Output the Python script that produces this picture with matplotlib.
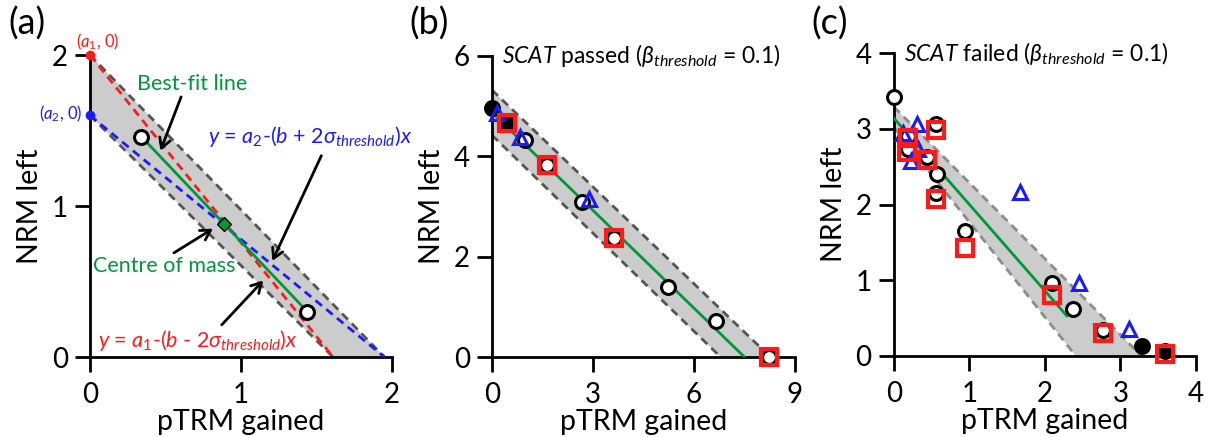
import matplotlib
matplotlib.use("Agg")
import matplotlib.pyplot as plt
import numpy as np

plt.rcParams['font.family'] = ['Lato', 'DejaVu Sans']
plt.rcParams['mathtext.fontset'] = 'custom'
plt.rcParams['mathtext.rm'] = 'Lato'
plt.rcParams['mathtext.it'] = 'Lato:italic'
plt.rcParams['mathtext.bf'] = 'Lato:bold'
plt.rcParams['mathtext.fallback'] = 'stixsans'

# ---------------- data ----------------
# panel (a)
a_circ_x = [0.34, 1.44]
a_circ_y = [1.46, 0.30]
a_com = (0.89, 0.88)
a_a1, a_a2 = 2.0, 1.6
a_red_xint, a_blue_xint = 1.61, 1.95
a_xticks = [0, 1, 2]
a_yticks = [0, 1, 2]

# panel (b)
b_circ_x = [0.98, 1.63, 2.67, 3.61, 5.24, 6.64, 8.24]
b_circ_y = [4.32, 3.82, 3.09, 2.38, 1.39, 0.71, 0.0]
b_fill_x = [0.0, 0.44]
b_fill_y = [4.96, 4.66]
b_tri_x = [0.16, 0.83, 2.89]
b_tri_y = [4.86, 4.38, 3.14]
b_sq_x = [0.44, 1.63, 3.61, 8.24]
b_sq_y = [4.66, 3.82, 2.38, 0.0]
b_band_top = (5.32, 8.27)   # (y-intercept, x-intercept)
b_band_bot = (4.42, 6.79)
b_fit = (4.87, 7.50)
b_xticks = [0, 3, 6, 9]
b_yticks = [0, 2, 4, 6]

# panel (c)
c_circ_x = [0.0, 0.56, 0.19, 0.18, 0.44, 0.57, 0.56, 0.94, 2.09, 2.37, 2.77]
c_circ_y = [3.42, 3.06, 2.90, 2.74, 2.63, 2.40, 2.15, 1.65, 0.96, 0.62, 0.34]
c_fill_x = [3.28, 3.59]
c_fill_y = [0.13, 0.07]
c_tri_x = [0.30, 0.12, 0.32, 0.22, 1.67, 2.45, 3.12]
c_tri_y = [3.07, 2.94, 2.74, 2.58, 2.16, 0.96, 0.35]
c_sq_x = [0.18, 0.17, 0.44, 0.56, 0.56, 0.94, 2.09, 2.77, 3.59]
c_sq_y = [2.88, 2.70, 2.59, 2.98, 2.08, 1.43, 0.80, 0.30, 0.03]
c_band_top = (3.29, 3.28)
c_band_bot = (3.02, 2.41)
c_fit_x = [0.0, 2.29]
c_fit_y = [3.14, 0.53]
c_xticks = [0, 1, 2, 3, 4]
c_yticks = [0, 1, 2, 3, 4]

GREEN = '#00973a'
RED = '#ff1a1a'
BLUE = '#1a1aff'
FILL = '#cccccc'

fig = plt.figure(figsize=(12.08, 4.37), dpi=100)
axA = fig.add_axes([0.0745, 0.183, 0.250, 0.691])
axB = fig.add_axes([0.4073, 0.183, 0.2508, 0.689])
axC = fig.add_axes([0.7400, 0.1854, 0.250, 0.693])


def style(ax, xt, yt):
    ax.set_xlim(xt[0], xt[-1])
    ax.set_ylim(yt[0], yt[-1])
    ax.set_xticks(xt)
    ax.set_yticks(yt)
    for s in ['top', 'right']:
        ax.spines[s].set_visible(False)
    for s in ['left', 'bottom']:
        ax.spines[s].set_linewidth(2)
    ax.spines['left'].set_bounds(yt[0], yt[-1])
    ax.spines['bottom'].set_bounds(xt[0], xt[-1])
    ax.tick_params(direction='out', length=11, width=2, labelsize=20)
    ax.tick_params(axis='x', pad=7)
    ax.tick_params(axis='y', pad=5)
    ax.set_xlabel('pTRM gained', fontsize=20.5, labelpad=1)
    ax.set_ylabel('NRM left', fontsize=20.5, labelpad=6)
    ax.set_facecolor('none')


def band(ax, top, bot, dcol):
    yt, xt = top
    yb, xb = bot
    ax.fill([0, xt, xb, 0], [yt, 0, 0, yb], color=FILL, lw=0, zorder=1)
    ax.plot([0, xt], [yt, 0], ls=(0, (3, 2)), color=dcol, lw=2, zorder=2)
    ax.plot([0, xb], [yb, 0], ls=(0, (3, 2)), color=dcol, lw=2, zorder=2)


circ_kw = dict(ls='none', marker='o', ms=10, mfc='white', mec='black', mew=2.2, clip_on=False, zorder=5)
fill_kw = dict(ls='none', marker='o', ms=10, mfc='black', mec='black', mew=2.2, clip_on=False, zorder=5)
tri_kw = dict(ls='none', marker='^', ms=10.5, mfc='none', mec=BLUE, mew=2.2, clip_on=False, zorder=6)
sq_kw = dict(ls='none', marker='s', ms=11.5, mfc='none', mec=RED, mew=3, clip_on=False, zorder=7)

# ---------------- panel (a) ----------------
ax = axA
style(ax, a_xticks, a_yticks)
band(ax, (a_a1, a_blue_xint), (a_a2, a_red_xint), '#555555')
ax.plot([0, a_red_xint], [a_a1, 0], ls=(0, (3, 2)), color=RED, lw=2, zorder=3)
ax.plot([0, a_blue_xint], [a_a2, 0], ls=(0, (3, 2)), color=BLUE, lw=2, zorder=3)
ax.plot(a_circ_x, a_circ_y, color=GREEN, lw=2, zorder=4)
ax.plot(a_circ_x, a_circ_y, **circ_kw)
ax.plot([a_com[0]], [a_com[1]], ls='none', marker='D', ms=7, mfc=GREEN, mec='black', mew=1, zorder=6)
ax.plot([0], [a_a1], 'o', color=RED, ms=6, clip_on=False, zorder=6)
ax.plot([0], [a_a2], 'o', color=BLUE, ms=6, clip_on=False, zorder=6)
ax.text(-0.09, 2.09, r'($a_1$, 0)', color=RED, fontsize=12, ha='left', va='center')
ax.text(-0.05, 1.61, r'($a_2$, 0)', color=BLUE, fontsize=12, ha='right', va='center')
ax.text(0.31, 1.81, 'Best-fit line', color=GREEN, fontsize=15.5, ha='left', va='center')
ax.text(0.78, 1.46, r'$y$ = $a_2$-($b$ + 2$\sigma_{threshold}$)$x$', color=BLUE, fontsize=15.5, ha='left', va='center')
ax.text(0.02, 0.60, 'Centre of mass', color=GREEN, fontsize=15.5, ha='left', va='center')
ax.text(0.05, 0.11, r'$y$ = $a_1$-($b$ - 2$\sigma_{threshold}$)$x$', color=RED, fontsize=15.5, ha='left', va='center')
akw = dict(arrowstyle='->,head_length=0.7,head_width=0.4', color='black', lw=2)
ax.annotate('', xy=(0.46, 1.35), xytext=(0.61, 1.74), arrowprops=akw)
ax.annotate('', xy=(1.2, 0.62), xytext=(1.54, 1.35), arrowprops=akw)
ax.annotate('', xy=(0.83, 0.86), xytext=(0.54, 0.68), arrowprops=akw)
ax.annotate('', xy=(1.16, 0.52), xytext=(0.86, 0.20), arrowprops=akw)
fig.text(0.007, 0.945, '(a)', fontsize=26, ha='left', va='center')

# ---------------- panel (b) ----------------
ax = axB
style(ax, b_xticks, b_yticks)
band(ax, b_band_top, b_band_bot, '#555555')
ax.plot([0, b_fit[1]], [b_fit[0], 0], color=GREEN, lw=2, zorder=3)
ax.plot(b_circ_x, b_circ_y, **circ_kw)
ax.plot(b_fill_x, b_fill_y, **fill_kw)
ax.plot(b_tri_x, b_tri_y, **tri_kw)
ax.plot(b_sq_x, b_sq_y, **sq_kw)
ax.text(0.3, 6.0, r'$SCAT$ passed ($\beta_{threshold}$ = 0.1)', fontsize=16.5, ha='left', va='center')
fig.text(0.339, 0.945, '(b)', fontsize=26, ha='left', va='center')

# ---------------- panel (c) ----------------
ax = axC
style(ax, c_xticks, c_yticks)
band(ax, c_band_top, c_band_bot, '#8c8c8c')
ax.plot(c_fit_x, c_fit_y, color=GREEN, lw=2, zorder=3)
ax.plot(c_circ_x, c_circ_y, **circ_kw)
ax.plot(c_fill_x, c_fill_y, **fill_kw)
ax.plot(c_tri_x, c_tri_y, **tri_kw)
ax.plot(c_sq_x, c_sq_y, **sq_kw)
ax.text(0.13, 4.0, r'$SCAT$ failed ($\beta_{threshold}$ = 0.1)', fontsize=16.5, ha='left', va='center')
fig.text(0.672, 0.945, '(c)', fontsize=26, ha='left', va='center')

fig.savefig('out.png', dpi=100)
